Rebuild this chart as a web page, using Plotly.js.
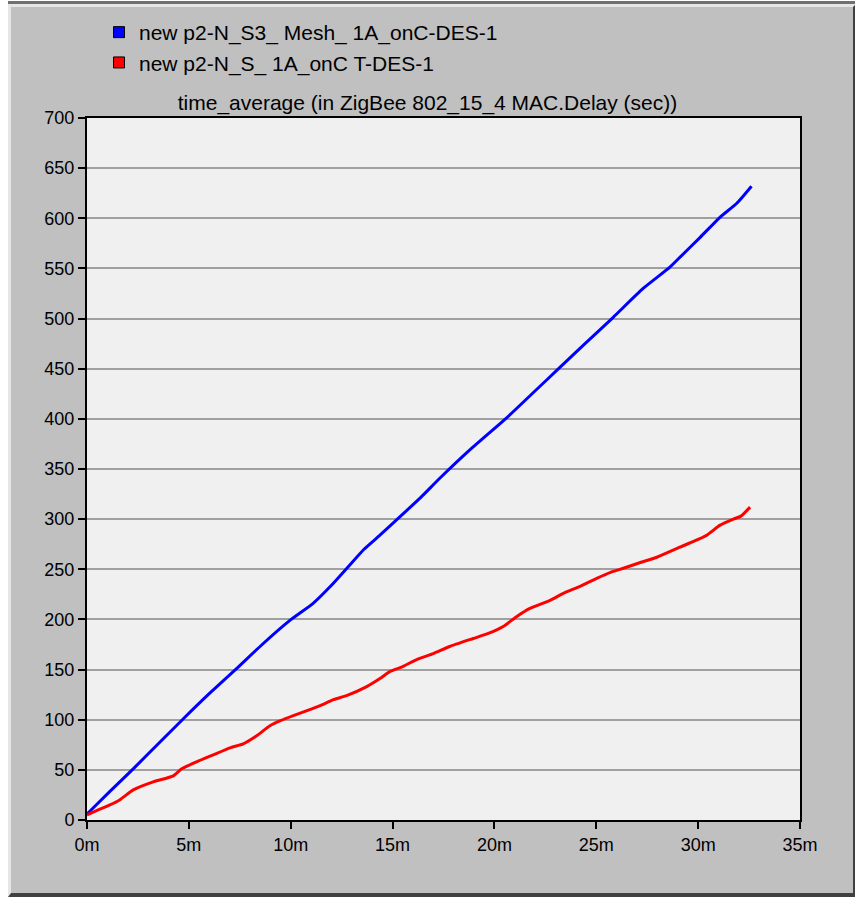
<!DOCTYPE html>
<html>
<head>
<meta charset="utf-8">
<script src="https://cdn.plot.ly/plotly-3.0.1.min.js"></script>
<style>
html, body { margin: 0; padding: 0; background: #ffffff; }
#frame {
  position: absolute; left: 8px; top: 4px; width: 842px; height: 886px;
  background: #c0c0c0;
  border-top: 3px solid #e6e6e6;
  border-left: 3px solid #e6e6e6;
  border-right: 3px solid #404040;
  border-bottom: 4px solid #404040;
  box-shadow: 0 -3px 0 #707070;
}
#chart { position: absolute; left: 0; top: 0; width: 855px; height: 897px; }
</style>
</head>
<body>
<div id="frame"></div>
<div id="chart"></div>
<script>
// Time in minutes, values in seconds
const blueName = "new p2-N_S3_ Mesh_ 1A_onC-DES-1";
const redName = "new p2-N_S_ 1A_onC T-DES-1";
const titleText = "time_average (in ZigBee 802_15_4 MAC.Delay (sec))";

const blueX = [0, 1.1, 2.27, 3.5, 4.73, 6.0, 7.34, 8.6, 9.96, 11.1, 12.0, 12.8, 13.6, 14.38, 15.5, 16.4, 17.33, 18.9, 20.6, 21.9, 23.2, 24.5, 25.82, 27.3, 28.6, 29.1, 30.1, 31.07, 31.9, 32.62];
const blueY = [6, 28, 51, 76, 101, 126, 151, 175, 199, 216, 234, 252, 270, 284, 305, 322, 341, 371, 401, 426, 451, 476, 501, 530, 551, 561, 581, 601, 615, 632];

const redX = [0, 0.55, 1.12, 1.6, 2.27, 3.25, 4.24, 4.65, 5.38, 6.2, 7.02, 7.67, 8.33, 8.98, 9.5, 10.13, 10.8, 11.44, 12.09, 12.74, 13.73, 14.38, 14.86, 15.5, 16.18, 17.0, 17.8, 18.96, 19.7, 20.43, 21.1, 21.74, 22.73, 23.38, 24.2, 25.02, 25.7, 26.33, 27.2, 27.97, 29.1, 29.8, 30.42, 31.08, 31.73, 32.1, 32.55];
const redY = [5, 10, 15, 20, 30, 38, 44, 51, 58, 65, 72, 76, 84, 94, 99, 104, 109, 114, 120, 124, 133, 141, 148, 153, 160, 166, 173, 181, 186, 193, 203, 211, 219, 226, 233, 241, 247, 251, 257, 262, 272, 278, 284, 294, 300, 303, 312];

const xTickVals = [0, 5, 10, 15, 20, 25, 30, 35];
const xTickText = ["0m", "5m", "10m", "15m", "20m", "25m", "30m", "35m"];
const yTickVals = [0, 50, 100, 150, 200, 250, 300, 350, 400, 450, 500, 550, 600, 650, 700];

const fontFam = "Liberation Sans, Arial, sans-serif";

const traces = [
  { x: blueX, y: blueY, type: "scatter", mode: "lines", line: { color: "#0000ff", width: 3, shape: "spline", smoothing: 0.5 }, showlegend: false, hoverinfo: "skip" },
  { x: redX, y: redY, type: "scatter", mode: "lines", line: { color: "#ff0000", width: 3, shape: "spline", smoothing: 0.5 }, showlegend: false, hoverinfo: "skip" },
  { x: [null], y: [null], type: "scatter", mode: "markers", name: blueName,
    marker: { symbol: "square", size: 11, color: "#0000ff", line: { color: "#000000", width: 1 } } },
  { x: [null], y: [null], type: "scatter", mode: "markers", name: redName,
    marker: { symbol: "square", size: 11, color: "#ff0000", line: { color: "#000000", width: 1 } } }
];

const layout = {
  width: 855, height: 897,
  margin: { l: 87, r: 55, t: 118, b: 77 },
  paper_bgcolor: "rgba(0,0,0,0)",
  plot_bgcolor: "#f0f0f0",
  font: { family: fontFam, size: 18, color: "#000000" },
  title: { text: titleText, x: 0.5, xanchor: "center", y: 1, yref: "paper", yanchor: "bottom", pad: { b: 8 }, font: { family: fontFam, size: 21, color: "#000000" } },
  showlegend: true,
  xaxis: {
    range: [0, 35], tickvals: xTickVals, ticktext: xTickText,
    showgrid: false, zeroline: false,
    showline: true, linecolor: "#000000", linewidth: 2, mirror: true,
    ticks: "outside", ticklen: 7, tickwidth: 2, tickcolor: "#000000",
    tickfont: { family: fontFam, size: 18, color: "#000000" }, fixedrange: true
  },
  yaxis: {
    range: [0, 700], tickvals: yTickVals,
    showgrid: true, gridcolor: "#a0a0a0", gridwidth: 2, zeroline: false,
    showline: true, linecolor: "#000000", linewidth: 2, mirror: true,
    ticks: "outside", ticklen: 7, tickwidth: 2, tickcolor: "#000000",
    tickfont: { family: fontFam, size: 18, color: "#000000" }, fixedrange: true
  },
  legend: { x: (99 - 87) / 713, xanchor: "left", y: 1 + (118 - 12) / 702, yanchor: "top",
    bgcolor: "rgba(0,0,0,0)", font: { family: fontFam, size: 21, color: "#000000" }, tracegroupgap: 0 }
};

Plotly.newPlot("chart", traces, layout, { displayModeBar: false, staticPlot: true });
</script>
</body>
</html>
